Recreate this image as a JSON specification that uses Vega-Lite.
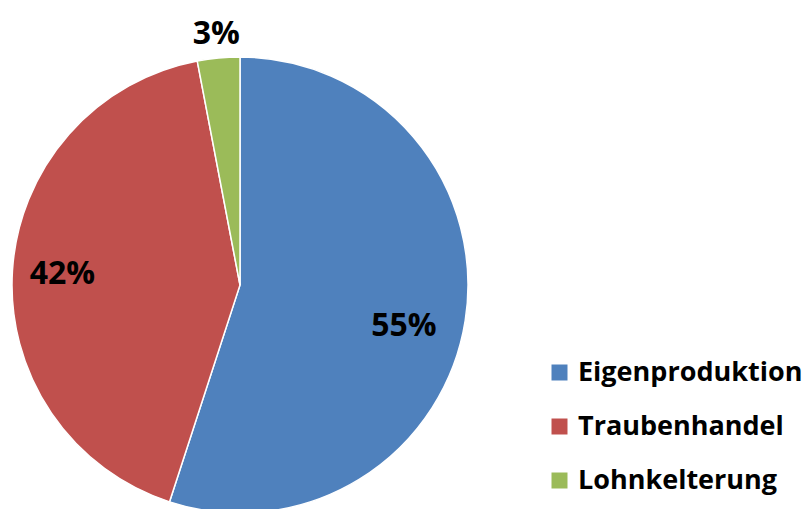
{
  "$schema": "https://vega.github.io/schema/vega-lite/v6.json",
  "width": 480,
  "height": 448,
  "autosize": "none",
  "padding": {"left": 0, "top": 61, "right": 328, "bottom": 0},
  "background": "white",
  "config": {"view": {"stroke": null}},
  "data": {
    "values": [
      {"category": "Eigenproduktion", "share": 55, "label": "55%", "rank": 1},
      {"category": "Traubenhandel", "share": 42, "label": "42%", "rank": 2},
      {"category": "Lohnkelterung", "share": 3, "label": "3%", "rank": 3}
    ]
  },
  "encoding": {
    "theta": {"field": "share", "type": "quantitative", "stack": true},
    "order": {"field": "rank", "type": "ordinal"},
    "color": {
      "field": "category",
      "type": "nominal",
      "sort": ["Eigenproduktion", "Traubenhandel", "Lohnkelterung"],
      "scale": {
        "domain": ["Eigenproduktion", "Traubenhandel", "Lohnkelterung"],
        "range": ["#4F81BD", "#C0504D", "#9BBB59"]
      },
      "legend": {
        "orient": "none",
        "legendX": 546,
        "legendY": 298,
        "title": null,
        "symbolType": "square",
        "symbolSize": 256,
        "symbolStrokeWidth": 0,
        "labelFont": "Open Sans",
        "labelFontWeight": "bold",
        "labelFontSize": 27,
        "labelColor": "black",
        "labelOffset": 5,
        "rowPadding": 26,
        "labelLimit": 400
      }
    }
  },
  "layer": [
    {
      "mark": {"type": "arc", "radius": 228, "stroke": "white", "strokeWidth": 1.5}
    },
    {
      "mark": {
        "type": "text",
        "radius": {"expr": "datum.share < 5 ? 252 : (datum.share > 50 ? 166 : 178)"},
        "dy": {"expr": "datum.share > 50 ? 15 : 0"},
        "font": "Open Sans",
        "fontWeight": "bold",
        "fontSize": 32,
        "align": "center",
        "baseline": "middle"
      },
      "encoding": {
        "text": {"field": "label"},
        "color": {"value": "black"}
      }
    }
  ]
}
